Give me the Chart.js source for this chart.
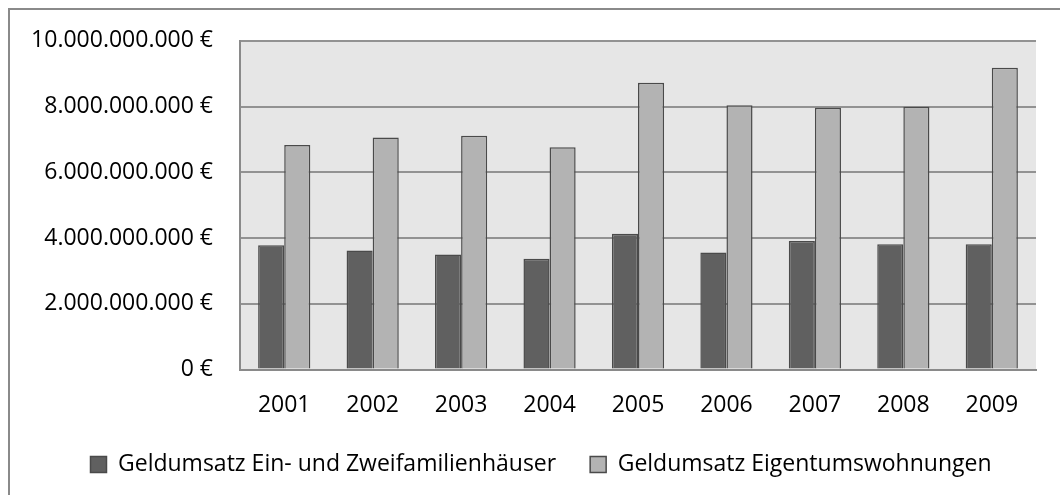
<!DOCTYPE html>
<html>
<head>
<meta charset="utf-8">
<script src="https://cdn.jsdelivr.net/npm/chart.js@4"></script>
<style>
    body { margin: 0; background: #fff; }
    #wrap { width: 1060px; height: 495px; }
</style>
</head>
<body>
<div id="wrap"><canvas id="grafico"></canvas></div>
<script>
const jahre = ['2001', '2002', '2003', '2004', '2005', '2006', '2007', '2008', '2009'];
const haeuser = [3780000000, 3620000000, 3500000000, 3370000000, 4130000000, 3560000000, 3910000000, 3810000000, 3810000000];
const wohnungen = [6830000000, 7060000000, 7110000000, 6760000000, 8720000000, 8040000000, 7960000000, 7990000000, 9180000000];
const yTicks = [0, 2000000000, 4000000000, 6000000000, 8000000000, 10000000000];

const schrift = { family: "'Open Sans', sans-serif", size: 23 };

// grauer Hintergrund der Zeichenfläche und Rahmen oben/links
const hintergrund = {
    id: 'hintergrund',
    afterLayout(chart) {
        // Legende etwas nach rechts schieben
        chart.legend.left = 46;
    },
    beforeDraw(chart) {
        const ctx = chart.ctx;
        const a = chart.chartArea;
        ctx.save();
        ctx.fillStyle = '#e6e6e6';
        ctx.fillRect(a.left, a.top, a.right - a.left, a.bottom - a.top);
        ctx.strokeStyle = '#8a8a8a';
        ctx.lineWidth = 2;
        ctx.beginPath();
        ctx.moveTo(9, 495);
        ctx.lineTo(9, 9);
        ctx.lineTo(1060, 9);
        ctx.stroke();
        ctx.restore();
    }
};

const grafico = new Chart(document.getElementById('grafico'), {
    type: 'bar',
    data: {
        labels: jahre,
        datasets: [{
            label: 'Geldumsatz Ein- und Zweifamilienhäuser',
            data: haeuser,
            backgroundColor: '#606060',
            borderColor: '#4a4a4a',
            borderWidth: 1.5
        }, {
            label: 'Geldumsatz Eigentumswohnungen',
            data: wohnungen,
            backgroundColor: '#b3b3b3',
            borderColor: '#4a4a4a',
            borderWidth: 1.5
        }]
    },
    options: {
        responsive: true,
        maintainAspectRatio: false,
        animation: false,
        devicePixelRatio: 1,
        categoryPercentage: 0.59,
        barPercentage: 1,
        layout: { padding: { left: 10, right: 24, top: 32.5, bottom: 9 } },
        plugins: {
            tooltip: { enabled: false },
            legend: {
                position: 'bottom',
                maxHeight: 72,
                labels: {
                    font: schrift,
                    color: '#000',
                    boxWidth: 16,
                    boxHeight: 16,
                    padding: 34
                }
            }
        },
        scales: {
            x: {
                grid: { display: false, drawTicks: false },
                border: { display: true, color: '#8a8a8a', width: 2 },
                ticks: { font: schrift, color: '#000', padding: 22.5, maxRotation: 0 },
                afterFit(scale) { scale.height = 49.5; }
            },
            y: {
                min: 0,
                max: 10000000000,
                grid: { color: '#929292', lineWidth: 2, drawTicks: false },
                border: { display: true, color: '#8a8a8a', width: 2 },
                afterBuildTicks(scale) {
                    scale.ticks = yTicks.map(v => ({ value: v }));
                },
                ticks: {
                    font: schrift,
                    color: '#000',
                    padding: 27,
                    callback: v => v.toLocaleString('de-DE') + ' €'
                },
                afterFit(scale) { scale.width = 230; }
            }
        }
    },
    plugins: [hintergrund]
});
</script>
</body>
</html>
